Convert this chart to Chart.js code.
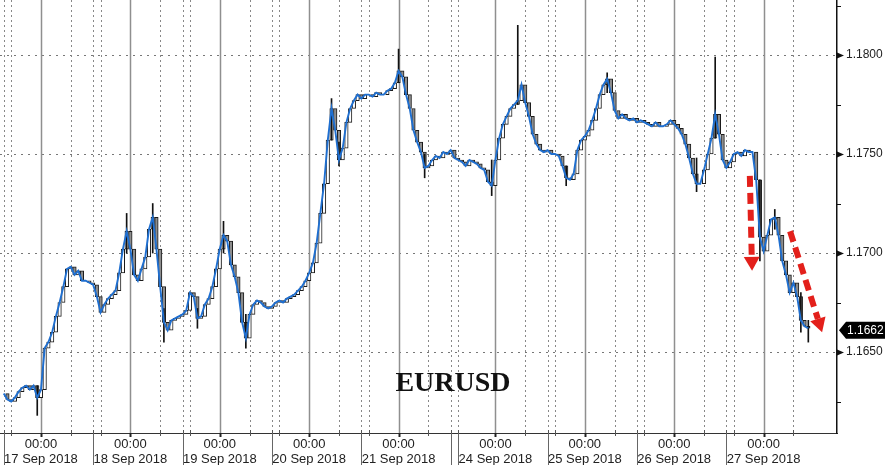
<!DOCTYPE html>
<html><head><meta charset="utf-8">
<script src="https://cdn.jsdelivr.net/npm/chart.js@4.4.0/dist/chart.umd.min.js"></script>
<style>html,body{margin:0;padding:0;background:#fff;}#wrap{width:890px;height:465px;position:relative;}</style>
</head><body><div id="wrap"><canvas id="c" width="890" height="465"></canvas></div>
<script>
// ---- DATA ----
// x axis unit: trading hours since 17 Sep 2018 00:00 (weekend compressed)
const dayHours = [0, 24, 48, 72, 96, 122, 146, 170, 194];
const dayLabels = ['17 Sep 2018','18 Sep 2018','19 Sep 2018','20 Sep 2018','21 Sep 2018','24 Sep 2018','25 Sep 2018','26 Sep 2018','27 Sep 2018'];
const timeLabel = '00:00';
const sessionOffsets = [8, 14, 16];
const separatorHours = [-10, 14, 38, 62, 86, 110, 112, 136, 160, 184];
const startHour = -10;
// hourly closes, EURUSD
const closes = [
 1.1629,1.1626,1.1625,1.1627,1.1630,1.1632,1.1633,1.1631,1.1633,1.1627,
 1.1631,1.1652,1.1655,1.1660,1.1668,1.1675,1.1683,1.1692,1.1693,1.1689,
 1.1691,1.1686,1.1686,1.1685,1.1684,1.1678,1.1670,1.1674,1.1677,1.1679,
 1.1681,1.1690,1.1702,1.1711,1.1702,1.1689,1.1686,1.1692,1.1698,1.1712,
 1.1718,1.1702,1.1683,1.1665,1.1661,1.1666,1.1667,1.1668,1.1669,1.1671,
 1.1680,1.1678,1.1667,1.1668,1.1674,1.1677,1.1683,1.1692,1.1702,1.1709,
 1.1706,1.1694,1.1688,1.1680,1.1665,1.1657,1.1669,1.1674,1.1676,1.1675,
 1.1673,1.1672,1.1673,1.1675,1.1676,1.1675,1.1677,1.1678,1.1679,1.1681,
 1.1683,1.1686,1.1690,1.1695,1.1705,1.1720,1.1735,1.1757,1.1773,1.1762,
 1.1747,1.1753,1.1766,1.1773,1.1777,1.1780,1.1778,1.1780,1.1780,1.1779,
 1.1781,1.1780,1.1780,1.1782,1.1783,1.1786,1.1792,1.1789,1.1780,1.1773,
 1.1762,1.1756,1.1751,1.1743,1.1744,1.1747,1.1749,1.1748,1.1751,1.1750,
 1.1752,1.1748,1.1747,1.1746,1.1744,1.1747,1.1746,1.1745,1.1743,1.1742,
 1.1736,1.1734,1.1747,1.1758,1.1765,1.1769,1.1773,1.1775,1.1777,1.1785,
 1.1776,1.1769,1.1760,1.1755,1.1752,1.1751,1.1752,1.1750,1.1750,1.1749,
 1.1744,1.1738,1.1737,1.1740,1.1752,1.1757,1.1759,1.1762,1.1767,1.1773,
 1.1780,1.1785,1.1788,1.1781,1.1772,1.1768,1.1770,1.1768,1.1767,1.1768,
 1.1766,1.1767,1.1766,1.1765,1.1764,1.1766,1.1764,1.1764,1.1765,1.1767,
 1.1765,1.1763,1.1760,1.1755,1.1748,1.1740,1.1735,1.1735,1.1742,1.1750,
 1.1758,1.1770,1.1760,1.1747,1.1743,1.1746,1.1750,1.1751,1.1749,1.1752,
 1.1751,1.1751,1.1737,1.1708,1.1701,1.1709,1.1717,1.1718,1.1709,1.1696,
 1.1689,1.1680,1.1685,1.1678,1.1666,1.1663,1.1662
];
// visible spikes (high/low wicks)
const wickHours = [-1, 23, 30, 33, 42, 49, 55, 78, 80, 96, 103, 121, 128, 141, 152, 176, 181, 193, 197, 204, 206];
const wickLows  = [1.1618,1.1700,1.1700,1.1655,1.1662,1.1700,1.1652,1.1757,1.1744,1.1786,1.1738,1.1729,1.1775,1.1734,1.1781,1.1731,1.1758,1.1696,1.1712,1.1660,1.1655];
const wickHighs = [1.1633,1.1720,1.1725,1.1672,1.1672,1.1716,1.1669,1.1778,1.1756,1.1803,1.1750,1.1747,1.1815,1.1744,1.1791,1.1748,1.1799,1.1737,1.1722,1.1680,1.1666];
const lastPrice = 1.1662;
const yMin = 1.16091, yMax = 1.18278;
const xMin = -11, xMax = 213.7;
const yStep = 0.0025;
const yMajorStep = 0.005;
// annotation arrows (hour, price)
const arrowFromHour = [190.3, 201.1];
const arrowFromPrice = [1.1739, 1.1711];
const arrowToHour = [190.9, 209.7];
const arrowToPrice = [1.1691, 1.1660];
const titleText = 'EURUSD';
const titleHour = 110.6, titlePrice = 1.1634;

// ---- CHART ----
const lastHour = startHour + closes.length - 1;
const bodyData = closes.map((c, i) => ({x: startHour + i, y: [i ? closes[i-1] : c, c]}));
const lineData = closes.map((c, i) => ({x: startHour + i, y: c}));
const wickData = wickHours.map((h, i) => ({x: h, y: [wickLows[i], wickHighs[i]]}));

const isMajor = v => Math.abs(Math.round(v / yMajorStep) * yMajorStep - v) < 1e-7;

const decor = {
  id: 'decor',
  beforeDraw(chart) {
    const ctx = chart.ctx;
    ctx.save(); ctx.fillStyle = '#fff'; ctx.fillRect(0, 0, chart.width, chart.height); ctx.restore();
  },
  beforeDatasetsDraw(chart) {
    const {ctx, chartArea: a, scales: {x, y}} = chart;
    ctx.save();
    ctx.strokeStyle = '#777'; ctx.lineWidth = 1; ctx.setLineDash([2, 5]);
    for (let v = Math.ceil(yMin / yMajorStep) * yMajorStep; v <= yMax; v += yMajorStep) {
      const py = Math.round(y.getPixelForValue(v)) + 0.5;
      ctx.beginPath(); ctx.moveTo(a.left, py); ctx.lineTo(a.right, py); ctx.stroke();
    }
    ctx.setLineDash([2, 3]); ctx.strokeStyle = '#888';
    const starts = [dayHours[0] - 24].concat(dayHours);
    starts.forEach(d => sessionOffsets.forEach(o => {
      const h = d + o;
      if (h < xMin || h > lastHour) return;
      const px = Math.round(x.getPixelForValue(h)) + 0.5;
      ctx.beginPath(); ctx.moveTo(px, a.top); ctx.lineTo(px, a.bottom); ctx.stroke();
    }));
    ctx.setLineDash([]); ctx.strokeStyle = '#8f8f8f'; ctx.lineWidth = 1.5;
    dayHours.forEach(h => {
      const px = Math.round(x.getPixelForValue(h)) + 0.5;
      ctx.beginPath(); ctx.moveTo(px, a.top); ctx.lineTo(px, a.bottom); ctx.stroke();
    });
    ctx.restore();
  },
  afterDatasetsDraw(chart) {
    const {ctx, chartArea: a, scales: {x, y}} = chart;
    ctx.save();
    ctx.fillStyle = '#111'; ctx.font = 'bold 28px "Liberation Serif", "Times New Roman", serif';
    ctx.textAlign = 'center'; ctx.textBaseline = 'middle';
    ctx.fillText(titleText, x.getPixelForValue(titleHour), y.getPixelForValue(titlePrice));
    for (let i = 0; i < arrowFromHour.length; i++) {
      const x1 = x.getPixelForValue(arrowFromHour[i]), y1 = y.getPixelForValue(arrowFromPrice[i]);
      const x2 = x.getPixelForValue(arrowToHour[i]), y2 = y.getPixelForValue(arrowToPrice[i]);
      const ang = Math.atan2(y2 - y1, x2 - x1);
      const hl = 14, hw = 8;
      const bx = x2 - hl * Math.cos(ang), by = y2 - hl * Math.sin(ang);
      ctx.strokeStyle = '#e3201b'; ctx.fillStyle = '#e3201b'; ctx.lineWidth = 6; ctx.setLineDash([11, 6]);
      ctx.beginPath(); ctx.moveTo(x1, y1); ctx.lineTo(bx, by); ctx.stroke();
      ctx.setLineDash([]);
      ctx.beginPath(); ctx.moveTo(x2, y2);
      ctx.lineTo(bx + hw * Math.sin(ang), by - hw * Math.cos(ang));
      ctx.lineTo(bx - hw * Math.sin(ang), by + hw * Math.cos(ang));
      ctx.closePath(); ctx.fill();
    }
    ctx.fillStyle = '#111'; ctx.strokeStyle = '#111'; ctx.lineWidth = 1;
    for (let v = Math.ceil(yMin / yStep) * yStep; v <= yMax; v += yStep) {
      const py = Math.round(y.getPixelForValue(v)) + 0.5;
      if (isMajor(v)) {
        ctx.beginPath(); ctx.moveTo(a.right, py - 3); ctx.lineTo(a.right + 7, py); ctx.lineTo(a.right, py + 3); ctx.closePath(); ctx.fill();
      } else {
        ctx.beginPath(); ctx.moveTo(a.right, py); ctx.lineTo(a.right + 4, py); ctx.stroke();
      }
    }
    ctx.strokeStyle = '#555';
    const starts = [dayHours[0] - 24].concat(dayHours);
    starts.forEach(d => sessionOffsets.forEach(o => {
      const h = d + o; if (h < xMin || h > lastHour) return;
      const px = Math.round(x.getPixelForValue(h)) + 0.5;
      ctx.beginPath(); ctx.moveTo(px, a.bottom - 3); ctx.lineTo(px, a.bottom + 3); ctx.stroke();
    }));
    ctx.strokeStyle = '#222'; ctx.lineWidth = 2;
    dayHours.forEach(h => {
      const px = Math.round(x.getPixelForValue(h)) + 0.5;
      ctx.beginPath(); ctx.moveTo(px, a.bottom); ctx.lineTo(px, a.bottom + 4); ctx.stroke();
    });
    ctx.strokeStyle = '#666'; ctx.lineWidth = 1;
    separatorHours.forEach(h => {
      const px = Math.round(x.getPixelForValue(h)) + 0.5;
      ctx.beginPath(); ctx.moveTo(px, a.bottom); ctx.lineTo(px, chart.height); ctx.stroke();
    });
    const py = y.getPixelForValue(lastPrice) + 2;
    const tx = a.right + 2;
    ctx.fillStyle = '#000';
    ctx.beginPath(); ctx.moveTo(tx, py); ctx.lineTo(tx + 7, py - 8.5); ctx.lineTo(tx + 46, py - 8.5);
    ctx.lineTo(tx + 46, py + 8.5); ctx.lineTo(tx + 7, py + 8.5); ctx.closePath(); ctx.fill();
    ctx.fillStyle = '#fff'; ctx.font = '12px "Liberation Sans", Arial, sans-serif';
    ctx.textAlign = 'left'; ctx.textBaseline = 'middle';
    ctx.fillText(lastPrice.toFixed(4), tx + 8, py + 0.5);
    ctx.restore();
  }
};

new Chart(document.getElementById('c'), {
  type: 'bar',
  data: {
    datasets: [
      {type: 'line', data: lineData, borderColor: '#1f6fd0', borderWidth: 1.9, pointRadius: 0, tension: 0, order: 0},
      {type: 'bar', data: wickData, backgroundColor: '#111', barThickness: 1, grouped: false, order: 1},
      {type: 'bar', data: bodyData, grouped: false, order: 2, barThickness: 3.5,
       backgroundColor: ctx => { const r = ctx.raw; return r && r.y[1] >= r.y[0] ? '#ffffff' : '#8d8d8d'; },
       borderColor: '#1a1a1a', borderWidth: 1, borderSkipped: false}
    ]
  },
  options: {
    responsive: false, animation: false, devicePixelRatio: 1,
    layout: {padding: 0},
    plugins: {legend: {display: false}, tooltip: {enabled: false}},
    scales: {
      x: {
        type: 'linear', position: 'bottom', min: xMin, max: xMax, offset: false,
        grid: {display: false, drawTicks: false},
        border: {display: true, color: '#333', width: 1},
        afterBuildTicks: s => { s.ticks = dayHours.map(v => ({value: v})); },
        ticks: {autoSkip: false, maxRotation: 0, padding: 4, color: '#222',
          font: {family: '"Liberation Sans", Arial, sans-serif', size: 13, lineHeight: 1.15},
          callback: (v, i) => [timeLabel, dayLabels[i]]},
        afterFit: s => { s.height = 32; s.paddingLeft = 0; s.paddingRight = 0; }
      },
      y: {
        type: 'linear', position: 'right', min: yMin, max: yMax,
        grid: {display: false, drawTicks: false},
        border: {display: true, color: '#111', width: 1.5},
        ticks: {stepSize: yStep, padding: 9, color: '#222',
          font: {family: '"Liberation Sans", Arial, sans-serif', size: 12},
          callback: v => isMajor(v) ? v.toFixed(4) : ''},
        afterFit: s => { s.width = 53; s.paddingTop = 0; s.paddingBottom = 0; }
      }
    }
  },
  plugins: [decor]
});
</script></body></html>
